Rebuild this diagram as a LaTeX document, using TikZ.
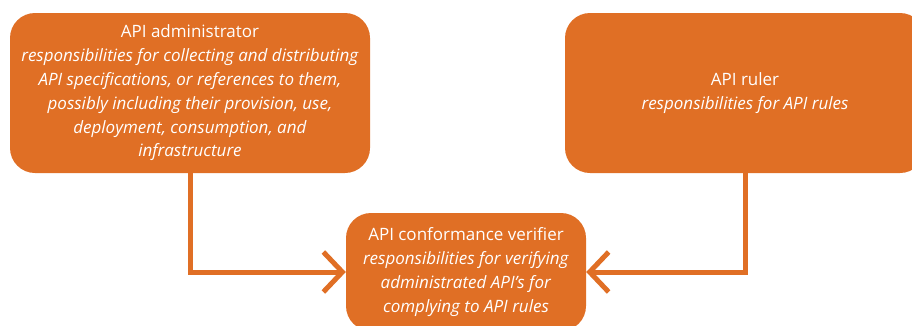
\documentclass[tikz,border=0pt]{standalone}
\usepackage{fontspec}
\setmainfont{Open Sans}
\usepackage{tikz}
\usetikzlibrary{arrows.meta}
\definecolor{roleorange}{RGB}{224,111,37}

\begin{document}
\begin{tikzpicture}[x=1pt, y=1pt,
  role/.style={rectangle, rounded corners=25pt, fill=roleorange, text=white,
    minimum width=360pt, minimum height=160pt, align=center, inner sep=0pt,
    font=\fontsize{17}{23.8}\selectfont},
  flow/.style={draw=roleorange, line width=5pt,
    -{Straight Barb[length=19pt, width=40pt, line width=5pt]}}]
 % Picture frame
  \clip (0,0) rectangle (912,-325);

 % Nodes for the roles
  \node[role] (admin) at (190,-93) {API administrator\\
    \textit{responsibilities for collecting and distributing}\\
    \textit{API specifications, or references to them,}\\
    \textit{possibly including their provision, use,}\\
    \textit{deployment, consumption, and}\\
    \textit{infrastructure}};
  \node[role] (ruler) at (745,-93) {API ruler\\
    \textit{responsibilities for API rules}};
  \node[role, minimum width=240pt, minimum height=118pt] (verifier) at (466,-272)
    {API conformance verifier\\
    \textit{responsibilities for verifying}\\
    \textit{administrated API's for}\\
    \textit{complying to API rules}};

  % Arrows into the verifier
  \draw[flow] (admin.south) |- (verifier.west);
  \draw[flow] (ruler.south) |- (verifier.east);
\end{tikzpicture}
\end{document}
